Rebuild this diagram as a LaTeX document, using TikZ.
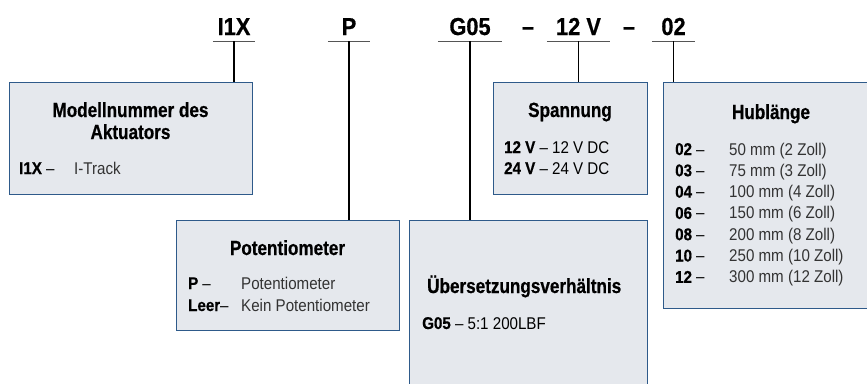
\documentclass[tikz,border=0pt]{standalone}
\usepackage{fontspec}
\setmainfont{Liberation Sans}[FakeStretch=0.89, BoldFeatures={FakeBold=0.6}]
\newfontfamily\ttlfont{Liberation Sans}[FakeStretch=0.835, BoldFeatures={FakeBold=0.6}]
\definecolor{boxfill}{HTML}{E5E8ED}
\definecolor{boxblue}{HTML}{2E5A8A}
\definecolor{txtgrey}{HTML}{333333}
\definecolor{ulgrey}{HTML}{555555}
\tikzset{
  box/.style={draw=boxblue, fill=boxfill, line width=1.2pt, inner sep=0pt, anchor=north west},
  code/.style={font=\bfseries\fontsize{24.5}{25}\selectfont, inner xsep=0pt, inner ysep=6pt, text depth=0pt, anchor=base},
  sep/.style={font=\bfseries\fontsize{24.5}{25}\selectfont, inner sep=0pt, anchor=base},
  ttl/.style={font=\ttlfont\bfseries\fontsize{20.5}{22}\selectfont, inner sep=0pt, anchor=base},
  key/.style={font=\bfseries\fontsize{17}{20}\selectfont, inner sep=0pt, anchor=base west},
  txt/.style={font=\fontsize{17}{20}\selectfont, inner sep=0pt, anchor=base west, text=txtgrey},
  uline/.style={draw=ulgrey, line width=1.3pt},
  conn/.style={draw=black, line width=1.1pt}
}
\begin{document}
\begin{tikzpicture}[x=1pt,y=-1pt]
\useasboundingbox (0,0) rectangle (867,383);
\clip (0,0) rectangle (867,383);
% boxes
\node[box, minimum width=243pt, minimum height=112pt] (b1) at (9,82) {};
\node[box, minimum width=223pt, minimum height=110pt] (b2) at (176,220) {};
\node[box, minimum width=238pt, minimum height=190pt] (b3) at (409,220) {};
\node[box, minimum width=154pt, minimum height=112pt] (b4) at (493,82) {};
\node[box, minimum width=220pt, minimum height=226pt] (b5) at (663,82) {};
% code labels
\node[code, minimum width=42pt] (c1) at (234,35) {I1X};
\node[code, minimum width=42pt] (c2) at (349,35) {P};
\node[code, minimum width=64pt] (c3) at (470,35) {G05};
\node[sep] (d1) at (528,35) {–};
\node[code, minimum width=63pt] (c4) at (578.5,35) {12 V};
\node[sep] (d2) at (629,35) {–};
\node[code, minimum width=43pt] (c5) at (673.5,35) {02};
\foreach \c in {c1,c2,c3,c4,c5}{\draw[uline] (\c.south west) -- (\c.south east);}
% connectors
\draw[conn] (c1.south) -- (c1.south |- b1.north);
\draw[conn] (c2.south) -- (c2.south |- b2.north);
\draw[conn] (c3.south) -- (c3.south |- b3.north);
\draw[conn] (c4.south) -- (c4.south |- b4.north);
\draw[conn] (c5.south) -- (c5.south |- b5.north);
% box 1
\node[ttl] (t1a) at (130.5,117) {Modellnummer des};
\node[ttl] (t1b) at (130.5,139) {Aktuators};
\node[key] (k1) at (19,174) {I1X \textmd{–}};
\node[txt] (v1) at (74,174) {I-Track};
% box 2
\node[ttl] (t2) at (287.5,255) {Potentiometer};
\node[key] (k2a) at (188,289) {P \textmd{–}};
\node[txt] (v2a) at (241,289) {Potentiometer};
\node[key] (k2b) at (188,311) {Leer\textmd{–}};
\node[txt] (v2b) at (241,311) {Kein Potentiometer};
% box 3
\node[ttl, anchor=base west] (t3) at (427,293) {Übersetzungsverhältnis};
\node[key] (k3) at (422,329) {G05 \textmd{– 5:1 200LBF}};
% box 4
\node[ttl] (t4) at (570,117) {Spannung};
\node[key] (k4a) at (504,153) {12 V \textmd{– 12 V DC}};
\node[key] (k4b) at (504,174) {24 V \textmd{– 24 V DC}};
% box 5
\node[ttl] (t5) at (771,119) {Hublänge};
\foreach \k/\v [count=\i from 0] in {02/50 mm (2 Zoll),03/75 mm (3 Zoll),04/100 mm (4 Zoll),06/150 mm (6 Zoll),08/200 mm (8 Zoll),10/250 mm (10 Zoll),12/300 mm (12 Zoll)}{
  \node[key] (k5\i) at (675,155+21.3*\i) {\k\ \textmd{–}};
  \node[txt] (v5\i) at (729,155+21.3*\i) {\v};
}
\end{tikzpicture}
\end{document}
